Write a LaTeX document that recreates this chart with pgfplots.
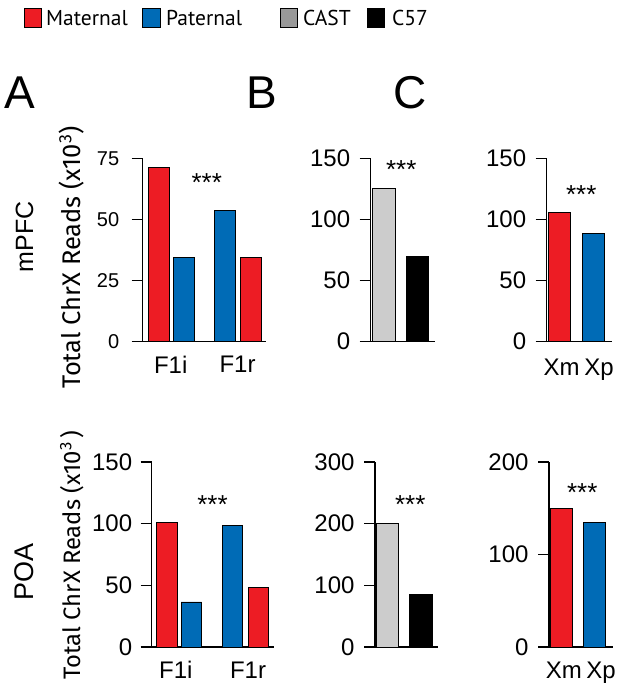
\documentclass[border=0pt]{standalone}
\usepackage{fontspec}
\setmainfont{Liberation Sans}
\newfontfamily\myriad{PT Sans}
\newfontfamily\fira{Fira Sans}
\usepackage{pgfplots}
\pgfplotsset{compat=1.18}
\definecolor{matred}{RGB}{237,28,36}
\definecolor{patblue}{RGB}{0,107,182}
\definecolor{castgrey}{RGB}{204,204,204}
\definecolor{castleg}{RGB}{153,153,153}
\pgfplotsset{
  panel/.style={
    scale only axis, anchor=south west,
    xmin=0, ymin=0,
    axis x line*=bottom, axis y line*=left,
    axis line style={-, line width=1.4pt},
    tick align=outside, major tick length=11pt,
    every tick/.style={line width=1.4pt, black},
    xtick style={draw=none},
    /pgf/number format/assume math mode=true,
    yticklabel style={font=\fontsize{24}{24}\selectfont, xshift=-6pt},
    xticklabel style={font=\fontsize{24}{24}\selectfont},
    clip=false,
  },
  bars/.style={ybar, bar shift=0pt, draw=black, line width=0.9pt},
}
\begin{document}
\begin{tikzpicture}
\useasboundingbox (0pt,0pt) rectangle (624pt,-691pt);
% legend
\draw[line width=0.8pt, fill=matred] (24pt,-8.3pt) rectangle (41pt,-27.3pt);
\draw[line width=0.8pt, fill=patblue] (142.7pt,-8.3pt) rectangle (160pt,-27.3pt);
\draw[line width=0.8pt, fill=castleg] (280pt,-8.3pt) rectangle (297.3pt,-27.3pt);
\draw[line width=0.8pt, fill=black] (367.3pt,-8.3pt) rectangle (384pt,-27.3pt);
\node[anchor=base west, inner sep=0, font=\myriad\fontsize{21.5}{21.5}\selectfont] at (46pt,-25pt) {Maternal};
\node[anchor=base west, inner sep=0, font=\myriad\fontsize{21.5}{21.5}\selectfont] at (166pt,-25pt) {Paternal};
\node[anchor=base west, inner sep=0, font=\myriad\fontsize{21.5}{21.5}\selectfont] at (303pt,-25pt) {CAST};
\node[anchor=base west, inner sep=0, font=\myriad\fontsize{21.5}{21.5}\selectfont] at (392pt,-25pt) {C57};
% panel letters
\node[anchor=base west, inner sep=0, font=\fontsize{46}{46}\selectfont] at (4.5pt,-108.3pt) {A};
\node[anchor=base west, inner sep=0, font=\fontsize{46}{46}\selectfont] at (246.5pt,-108.3pt) {B};
\node[anchor=base west, inner sep=0, font=\fontsize{46}{46}\selectfont] at (393.5pt,-108.3pt) {C};
% row labels
\node[rotate=90, anchor=base, inner sep=0, font=\fontsize{25}{25}\selectfont] at (33pt,-236.7pt) {mPFC};
\node[rotate=90, anchor=base, inner sep=0, font=\fontsize{27}{27}\selectfont] at (33pt,-571.7pt) {POA};
\node[rotate=90, anchor=base, inner sep=0, font=\fira\fontsize{25.5}{25.5}\selectfont] at (80.5pt,-257.5pt) {Total ChrX Reads (x10\textsuperscript{3})};
\node[rotate=90, anchor=base, inner sep=0, font=\fira\fontsize{23.8}{23.8}\selectfont] at (80.5pt,-555pt) {Total ChrX Reads (x10\textsuperscript{3}\,)};

% ---- top A
\begin{axis}[panel, at={(142.7pt,-341.5pt)}, width=123pt, height=183.2pt,
  xmax=123, ymax=75, ytick={0,25,50,75},
  xtick={28,94.8}, xticklabels={F1i,F1r},
  yticklabel style={font=\fontsize{20}{20}\selectfont, xshift=-3pt}]
\addplot[bars, fill=matred, bar width=20.7] coordinates {(15.95,71.1) (108.3,34.5)};
\addplot[bars, fill=patblue, bar width=20.7] coordinates {(40.95,34.5) (82.3,53.8)};
\node[font=\fontsize{26}{26}\selectfont, inner sep=0] at (axis cs:64,64.9) {***};
\end{axis}
% ---- top B
\begin{axis}[panel, at={(370.7pt,-341.5pt)}, width=64.3pt, height=183.2pt,
  xmax=64.3, ymax=150, ytick={0,50,100,150}, xtick=\empty]
\addplot[bars, fill=castgrey, bar width=22.5] coordinates {(13.15,125.5)};
\addplot[bars, fill=black, bar width=22.5] coordinates {(46.8,69.5)};
\node[font=\fontsize{26}{26}\selectfont, inner sep=0] at (axis cs:30.6,140.5) {***};
\end{axis}
% ---- top C
\begin{axis}[panel, at={(546.7pt,-341.5pt)}, width=65pt, height=183.2pt,
  xmax=65, ymax=150, ytick={0,50,100,150},
  xtick={14.8,52.3}, xticklabels={Xm,Xp},
  xticklabel style={yshift=-3pt}]
\addplot[bars, fill=matred, bar width=22] coordinates {(13.15,106)};
\addplot[bars, fill=patblue, bar width=22] coordinates {(46.6,88.6)};
\node[font=\fontsize{26}{26}\selectfont, inner sep=0] at (axis cs:34.6,120.6) {***};
\end{axis}
% ---- bottom A
\begin{axis}[panel, at={(151.7pt,-647pt)}, width=122.3pt, height=185pt,
  xmax=122.3, ymax=150, ytick={0,50,100,150},
  xtick={24.1,96.3}, xticklabels={F1i,F1r},
  yticklabel style={xshift=1pt}]
\addplot[bars, fill=matred, bar width=20.5] coordinates {(15,101.3) (106.95,48.5)};
\addplot[bars, fill=patblue, bar width=20.5] coordinates {(39.65,36.5) (80.8,98.8)};
\node[font=\fontsize{26}{26}\selectfont, inner sep=0] at (axis cs:60.8,115.1) {***};
\end{axis}
% ---- bottom B
\begin{axis}[panel, at={(375pt,-647pt)}, width=63.3pt, height=185pt,
  xmax=63.3, ymax=300, ytick={0,100,200,300}, xtick=\empty]
\addplot[bars, fill=castgrey, bar width=22.5] coordinates {(12.5,200)};
\addplot[bars, fill=black, bar width=22.5] coordinates {(45.8,85.5)};
\node[font=\fontsize{26}{26}\selectfont, inner sep=0] at (axis cs:35.3,231.4) {***};
\end{axis}
% ---- bottom C
\begin{axis}[panel, at={(549pt,-647pt)}, width=63.7pt, height=185pt,
  xmax=63.7, ymax=200, ytick={0,100,200},
  xtick={14.8,52}, xticklabels={Xm,Xp}]
\addplot[bars, fill=matred, bar width=22] coordinates {(12.15,150)};
\addplot[bars, fill=patblue, bar width=22] coordinates {(45.5,134.4)};
\node[font=\fontsize{26}{26}\selectfont, inner sep=0] at (axis cs:33.2,167.2) {***};
\end{axis}
\end{tikzpicture}
\end{document}
